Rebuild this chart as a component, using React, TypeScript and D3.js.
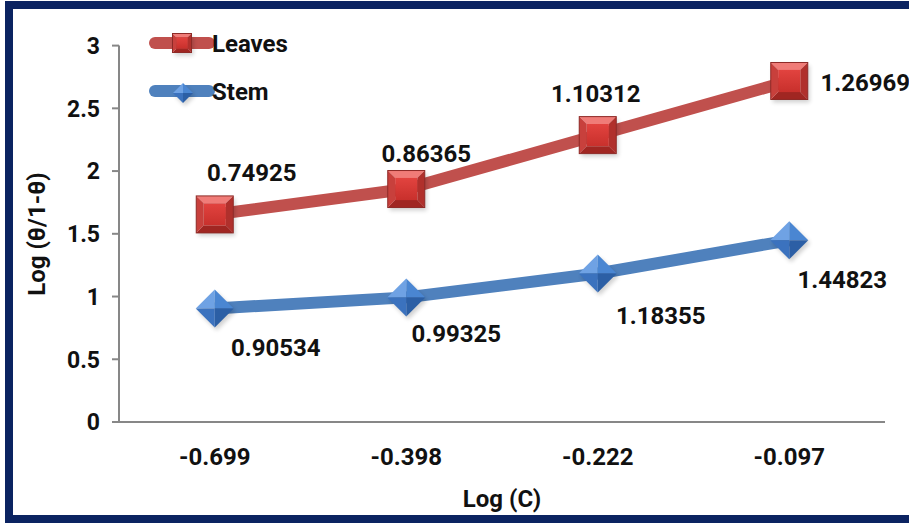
import React from "react";
import * as d3 from "d3";

const categories = ["-0.699", "-0.398", "-0.222", "-0.097"];
const stemValues = [0.90534, 0.99325, 1.18355, 1.44823];
const leavesValues = [0.74925, 0.86365, 1.10312, 1.26969];
const yTicks = [0, 0.5, 1, 1.5, 2, 2.5, 3];
const seriesNames = ["Stem", "Leaves"];
// label placement offsets (px) relative to each marker: [dx, dy]
const stemLabelOffsets: [number, number][] = [[61, 48], [50, 45], [63, 50], [53, 48]];
const leavesLabelOffsets: [number, number][] = [[37, -33], [20, -27], [-2, -33], [76, 10]];

const W = 909, H = 523;
const M = { left: 119, right: 885, top: 45.6, bottom: 422 };
const RED = "#C0504D", BLUE = "#4F81BD";
const FONT = "Roboto, 'Liberation Sans', Arial, sans-serif";

function SquareMarker({ x, y, s }: { x: number; y: number; s: number }) {
  const h = s / 2, b = s * 0.2;
  const o = [[x - h, y - h], [x + h, y - h], [x + h, y + h], [x - h, y + h]];
  const i = [[x - h + b, y - h + b], [x + h - b, y - h + b], [x + h - b, y + h - b], [x - h + b, y + h - b]];
  const poly = (pts: number[][]) => pts.map((p) => p.join(",")).join(" ");
  return (
    <g>
      <rect x={x - h + 2} y={y - h + 3} width={s} height={s} fill="#000" opacity={0.18} filter="url(#blur)" />
      <polygon points={poly([o[0], o[1], i[1], i[0]])} fill="#F07C78" />
      <polygon points={poly([o[1], o[2], i[2], i[1]])} fill="#B0302C" />
      <polygon points={poly([o[2], o[3], i[3], i[2]])} fill="#A02622" />
      <polygon points={poly([o[3], o[0], i[0], i[3]])} fill="#C8403C" />
      <polygon points={poly(i)} fill="url(#redFace)" />
      <rect x={x - h} y={y - h} width={s} height={s} fill="none" stroke="#8E2A27" strokeWidth={1} />
    </g>
  );
}

function DiamondMarker({ x, y, s }: { x: number; y: number; s: number }) {
  const h = s / 2;
  const t = [x, y - h], r = [x + h, y], bt = [x, y + h], l = [x - h, y], c = [x, y];
  const poly = (pts: number[][]) => pts.map((p) => p.join(",")).join(" ");
  return (
    <g>
      <polygon points={poly([[x + 2, y - h + 3], [x + h + 2, y + 3], [x + 2, y + h + 3], [x - h + 2, y + 3]])} fill="#000" opacity={0.18} filter="url(#blur)" />
      <polygon points={poly([l, t, c])} fill="#6FA2E4" />
      <polygon points={poly([t, r, c])} fill="#4A86D2" />
      <polygon points={poly([r, bt, c])} fill="#2C5FA5" />
      <polygon points={poly([bt, l, c])} fill="#3B72BE" />
    </g>
  );
}

export default function App() {
  const x = d3.scaleBand<string>().domain(categories).range([M.left, M.right]);
  const y = d3.scaleLinear().domain([0, 3]).range([M.bottom, M.top]);
  const table = categories.map((c, i) => ({ cat: c, Stem: stemValues[i], Leaves: leavesValues[i] }));
  const stacked = d3.stack<any>().keys(seriesNames)(table);
  const cx = (c: string) => (x(c) as number) + x.bandwidth() / 2;
  const line = d3.line<[number, number]>().x((d) => d[0]).y((d) => d[1]);

  const stemPts: [number, number][] = stacked[0].map((d, i) => [cx(categories[i]), y(d[1])]);
  const leavesPts: [number, number][] = stacked[1].map((d, i) => [cx(categories[i]), y(d[1])]);

  const labelStyle = { fontFamily: FONT, fontWeight: 700, fontSize: 24, fill: "#111" } as const;

  return (
    <svg width={W} height={H} style={{ position: "absolute", left: 0, top: 0 }}>
      <defs>
        <filter id="blur" x="-50%" y="-50%" width="200%" height="200%">
          <feGaussianBlur stdDeviation={2} />
        </filter>
        <linearGradient id="redFace" x1="0" y1="0" x2="0" y2="1">
          <stop offset="0" stopColor="#E2433F" />
          <stop offset="1" stopColor="#C8302C" />
        </linearGradient>
      </defs>
      <rect x={0} y={0} width={W} height={H} fill="#fff" />
      <rect x={9} y={5} width={W + 20} height={H - 9} fill="#fff" stroke="#0B2361" strokeWidth={8} />

      {/* axes */}
      <line x1={M.left} x2={M.left} y1={M.top} y2={M.bottom} stroke="#878787" strokeWidth={2} />
      <line x1={M.left - 1} x2={M.right} y1={M.bottom} y2={M.bottom} stroke="#878787" strokeWidth={2} />
      {yTicks.map((t) => (
        <g key={t}>
          <line x1={M.left - 7} x2={M.left} y1={y(t)} y2={y(t)} stroke="#878787" strokeWidth={2} />
          <text x={100} y={y(t)} dy="0.36em" textAnchor="end" style={{ ...labelStyle, fontSize: 23 }}>
            {t}
          </text>
        </g>
      ))}
      {categories.map((c) => (
        <text key={c} x={cx(c)} y={465} textAnchor="middle" style={labelStyle}>
          {c}
        </text>
      ))}
      <text x={(M.left + M.right) / 2} y={507} textAnchor="middle" style={labelStyle}>
        Log (C)
      </text>
      <text transform={`translate(45,234) rotate(-90)`} textAnchor="middle" style={labelStyle}>
        Log (θ/1-θ)
      </text>

      {/* lines */}
      <path d={line(stemPts) as string} fill="none" stroke={BLUE} strokeWidth={12} strokeLinejoin="round" />
      <path d={line(leavesPts) as string} fill="none" stroke={RED} strokeWidth={12} strokeLinejoin="round" />
      {stemPts.map((p, i) => (
        <DiamondMarker key={"s" + i} x={p[0]} y={p[1]} s={38} />
      ))}
      {leavesPts.map((p, i) => (
        <SquareMarker key={"l" + i} x={p[0]} y={p[1]} s={37} />
      ))}

      {/* labels */}
      {stemPts.map((p, i) => (
        <text key={"sl" + i} x={p[0] + stemLabelOffsets[i][0]} y={p[1] + stemLabelOffsets[i][1]} textAnchor="middle" style={labelStyle}>
          {stemValues[i].toFixed(5)}
        </text>
      ))}
      {leavesPts.map((p, i) => (
        <text key={"ll" + i} x={p[0] + leavesLabelOffsets[i][0]} y={p[1] + leavesLabelOffsets[i][1]} textAnchor="middle" style={labelStyle}>
          {leavesValues[i].toFixed(5)}
        </text>
      ))}

      {/* legend */}
      <line x1={155} x2={209} y1={43} y2={43} stroke={RED} strokeWidth={12} strokeLinecap="round" />
      <SquareMarker x={182} y={43} s={19} />
      <text x={212} y={52} style={labelStyle}>Leaves</text>
      <line x1={155} x2={209} y1={91} y2={91} stroke={BLUE} strokeWidth={12} strokeLinecap="round" />
      <DiamondMarker x={183} y={93} s={20} />
      <text x={212} y={100} style={labelStyle}>Stem</text>
    </svg>
  );
}
